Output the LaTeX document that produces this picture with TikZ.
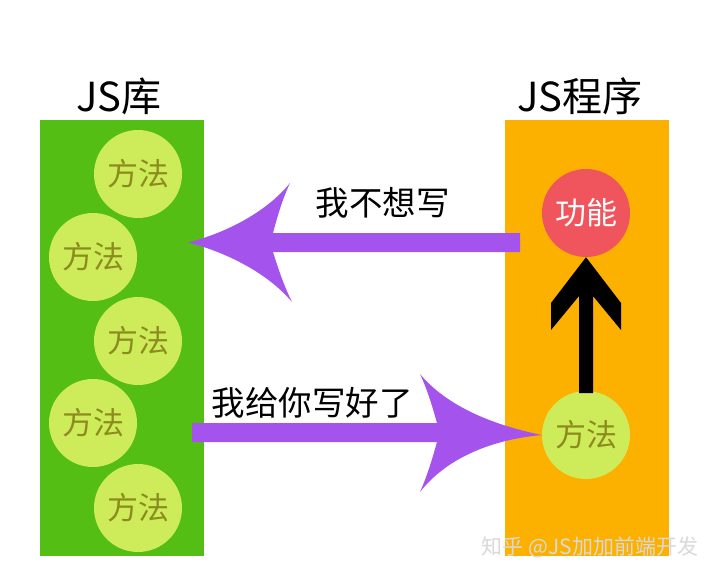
\documentclass[tikz,border=0pt]{standalone}
\usepackage{fontspec}
\newfontfamily\cjk{Noto Sans CJK SC}
\definecolor{libgreen}{RGB}{84,190,20}
\definecolor{methfill}{RGB}{206,236,90}
\definecolor{methtext}{RGB}{140,140,30}
\definecolor{progorange}{RGB}{252,176,0}
\definecolor{funcred}{RGB}{240,84,92}
\definecolor{arrpurple}{RGB}{164,84,236}
\begin{document}
\begin{tikzpicture}[x=1pt,y=-1pt,
  title/.style={font=\cjk\fontsize{40}{40}\selectfont, text=black},
  panel/.style={rectangle, inner sep=0, minimum width=164, minimum height=436, anchor=north west},
  method/.style={circle, inner sep=0, minimum size=88, fill=methfill, text=methtext, font=\cjk\fontsize{31}{31}\selectfont},
  func/.style={circle, inner sep=0, minimum size=88, fill=funcred, text=white, font=\cjk\fontsize{31}{31}\selectfont},
  label/.style={font=\cjk\fontsize{33.5}{33.5}\selectfont, text=black},
  bigarrow/.style={fill=arrpurple, draw=none}]
\useasboundingbox (0,0) rectangle (720,576);
\fill[white] (0,0) rectangle (720,576);
% titles
\node[title] (t1) at (119,96) {JS库};
\node[title] (t2) at (580,96) {JS程序};
% panels
\node[panel, fill=libgreen] (lib) at (40,120) {};
\node[panel, fill=progorange] (prog) at (505,120) {};
% library methods
\node[method] (m1) at (138,174) {方法};
\node[method] (m2) at (93,257) {方法};
\node[method] (m3) at (138,341) {方法};
\node[method] (m4) at (93,423) {方法};
\node[method] (m5) at (138,508) {方法};
% program
\node[func] (f) at (586,213) {功能};
\node[method] (pm) at (586,435) {方法};
% black arrow from pm up to f
\coordinate (btip) at (f.south);
\fill[black] (btip) -- (621,303) -- (621,330) -- (593,296) -- (593,393) -- (579,393) -- (579,296) -- (551,330) -- (551,303) -- cycle;
% top purple arrow: prog -> lib
\coordinate (ltip) at (188,242.5);
\fill[bigarrow] (ltip) .. controls (222,234) and (265,214) .. (290,183)
  .. controls (282,200) and (277,218) .. (273,233)
  -- (520,233) -- (520,252) -- (273,252)
  .. controls (278,268) and (284,286) .. (292,302)
  .. controls (266,271) and (222,251) .. (ltip) -- cycle;
\node[label, anchor=west] (lab1) at (312,203) {我不想写};
% bottom purple arrow: lib -> pm
\coordinate (rtip) at (pm.west);
\fill[bigarrow] (rtip) .. controls (488,424) and (445,404) .. (420,374)
  .. controls (428,391) and (433,409) .. (437,423)
  -- (192,423) -- (192,442) -- (437,442)
  .. controls (433,456) and (428,474) .. (420,492)
  .. controls (445,460) and (488,440) .. (rtip) -- cycle;
\node[label, anchor=west] (lab2) at (208,403) {我给你写好了};
% watermark
\node[font=\cjk\fontsize{21}{21}\selectfont, text=gray!30] (wm) at (590,547) {知乎 @JS加加前端开发};
\end{tikzpicture}
\end{document}
